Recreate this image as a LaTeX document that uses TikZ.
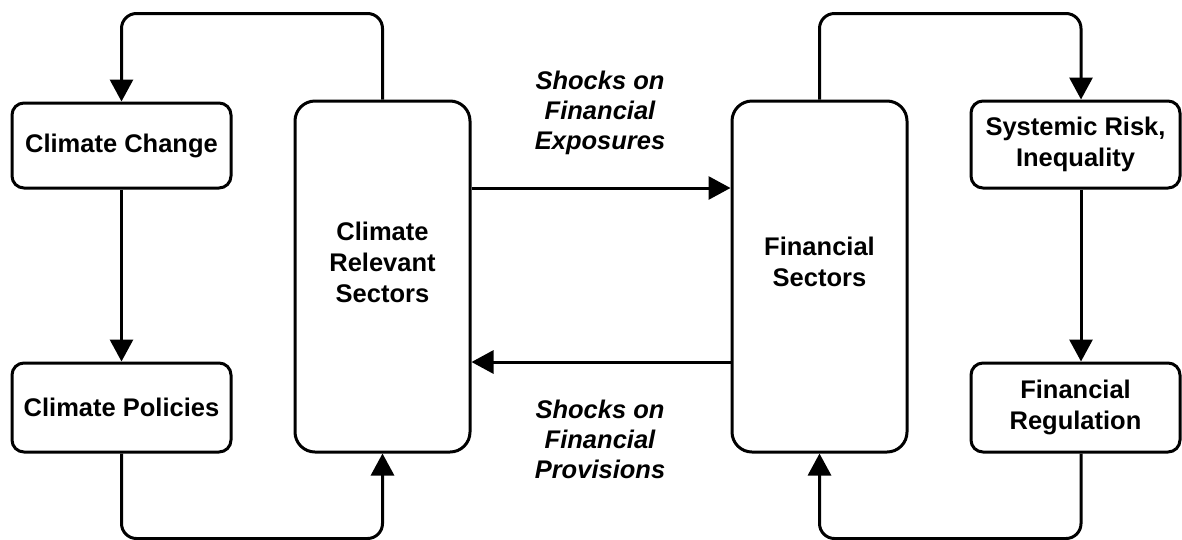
\documentclass[tikz,border=0pt]{standalone}
\usepackage{fontspec}
\setmainfont{Liberation Sans}
\usetikzlibrary{arrows.meta,calc}
\begin{document}
\begin{tikzpicture}[x=1pt,y=-1pt,
  box/.style={draw,line width=3pt,rounded corners=12pt,inner sep=0pt},
  bigbox/.style={draw,line width=3pt,rounded corners=20pt,inner sep=0pt},
  lbl/.style={font=\fontsize{25.5}{31}\selectfont\bfseries,align=center},
  ital/.style={font=\fontsize{25.5}{30}\selectfont\bfseries\itshape,align=center},
  conn/.style={line width=3pt,rounded corners=15pt,-{Triangle[length=22pt,width=23pt]}}]
\useasboundingbox (0,0) rectangle (1182,539);
% small boxes
\node[box,lbl,minimum width=219pt,minimum height=85pt] (cc) at (121.5,145.5) {Climate Change};
\node[box,lbl,minimum width=219pt,minimum height=89pt] (cp) at (121.5,407.5) {Climate Policies};
\node[box,lbl,minimum width=209pt,minimum height=87pt] (sr) at (1075.5,144.5) {Systemic Risk,\\Inequality};
\node[box,lbl,minimum width=209pt,minimum height=89pt] (fr) at (1075.5,407.5) {Financial\\Regulation};
% big boxes
\node[bigbox,minimum width=175pt,minimum height=351pt] (crs) at (382.5,276.5) {};
\node[lbl] (crstext) at (382.5,262) {Climate\\Relevant\\Sectors};
\node[bigbox,minimum width=175pt,minimum height=351pt] (fs) at (819.5,276.5) {};
\node[lbl] (fstext) at (819.5,262) {Financial\\Sectors};
% edge labels
\node[ital] (exp) at (600,113) {Shocks on\\Financial\\Exposures};
\node[ital] (prov) at (600,439) {Shocks on\\Financial\\Provisions};
% helper coordinates
\coordinate (yTop) at (0,188);
\coordinate (yBot) at (0,362);
% connectors
\draw[conn] (crs.north) -- ++(0,-86) -| (cc.north);
\draw[conn] (cc.south) -- (cp.north);
\draw[conn] (cp.south) -- ++(0,85) -| (crs.south);
\draw[conn] (crs.east |- yTop) -- (fs.west |- yTop);
\draw[conn] (fs.west |- yBot) -- (crs.east |- yBot);
\draw[conn] (fs.north) -- ++(0,-86) -| ([xshift=5.5pt]sr.north);
\draw[conn] ([xshift=5.5pt]sr.south) -- ([xshift=5.5pt]fr.north);
\draw[conn] ([xshift=5.5pt]fr.south) -- ++(0,85) -| (fs.south);
\end{tikzpicture}
\end{document}
